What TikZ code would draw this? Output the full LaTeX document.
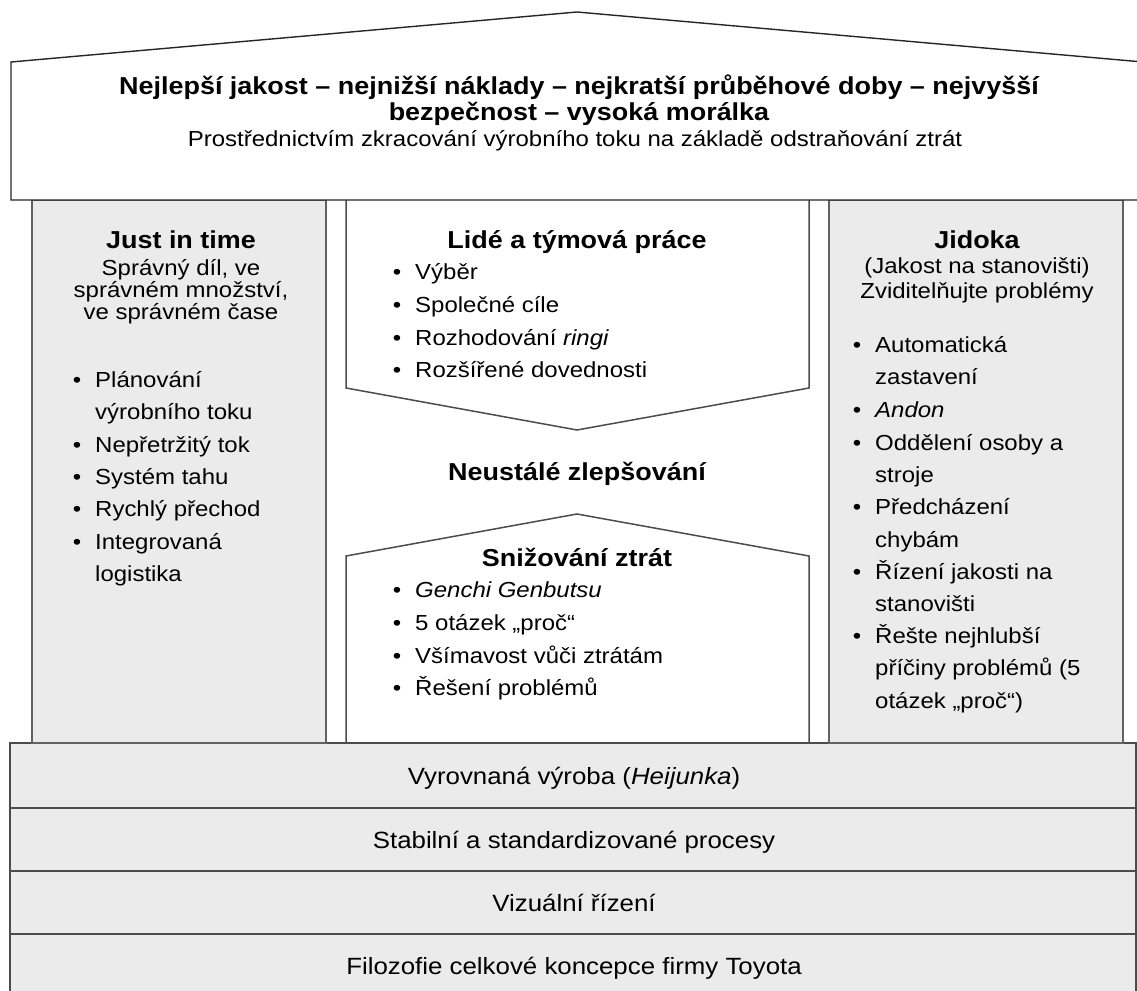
\documentclass[tikz,border=0pt]{standalone}
\usepackage{fontspec}
\setmainfont{Liberation Sans}[FakeStretch=1.1]
\newcommand\bitem[4]{%
  \node[txt,anchor=base] (#1-b) at (#2,#3) {•};
  \node[txt,anchor=base west] (#1) at ({#2+18},#3) {#4};}
\newcommand\citem[4]{%
  \node[txt,anchor=base west] (#1) at ({#2+18},#3) {#4};}
\begin{document}
\begin{tikzpicture}[x=1pt,y=-1pt,
  roofline/.style={draw=black!85, line width=1.4pt, line join=miter},
  pil/.style={fill=black!8, draw=black!62, line width=2pt},
  band/.style={fill=black!8, draw=black!70, line width=1.6pt},
  cline/.style={draw=black!70, line width=1.5pt, line join=miter},
  txt/.style={inner sep=0pt, font=\fontsize{21.8}{22}\selectfont, text=black},
  btxt/.style={inner sep=0pt, font=\fontsize{23.5}{24}\selectfont, text=black},
  hd/.style={txt, font=\fontsize{24.5}{24}\selectfont\bfseries},
]
\useasboundingbox (0,0) rectangle (1137,990);
\begin{scope}
\clip (0,0) rectangle (1137,990);
% base bands
\path[band] (10,743) rectangle (1136,808);
\path[band] (10,808) rectangle (1136,871);
\path[band] (10,871) rectangle (1136,934);
\path[band] (10,934) rectangle (1136,1000);
% pillars
\path[pil] (32,200) rectangle (326,743);
\path[pil] (829,200) rectangle (1123,743);
% centre shapes
\path[cline] (346,200) -- (346,388) -- (577,430) -- (809,388) -- (809,200);
\path[cline] (346,743) -- (346,556) -- (577,514) -- (809,556) -- (809,743);
% roof
\path[roofline, fill=white] (11,200) -- (11,62) -- (577,12) -- (1143,62) -- (1143,200) -- cycle;
\end{scope}

% roof text
\node[hd,anchor=base] (r1) at (579,94) {Nejlepší jakost – nejnižší náklady – nejkratší průběhové doby – nejvyšší};
\node[hd,anchor=base] (r2) at (579,120) {bezpečnost – vysoká morálka};
\node[txt,anchor=base] (r3) at (575,146) {Prostřednictvím zkracování výrobního toku na základě odstraňování ztrát};

% left pillar
\node[hd,anchor=base] (jit) at (181,248) {Just in time};
\node[txt,anchor=base] (jit1) at (181,275) {Správný díl, ve};
\node[txt,anchor=base] (jit2) at (181,297) {správném množství,};
\node[txt,anchor=base] (jit3) at (181,319) {ve správném čase};
\bitem{l1}{77}{387}{Plánování}
\citem{l1c}{77}{419}{výrobního toku}
\bitem{l2}{77}{452}{Nepřetržitý tok}
\bitem{l3}{77}{484}{Systém tahu}
\bitem{l4}{77}{516}{Rychlý přechod}
\bitem{l5}{77}{549}{Integrovaná}
\citem{l5c}{77}{581}{logistika}

% centre
\node[hd,anchor=base] (ppl) at (577,248) {Lidé a týmová práce};
\bitem{c1}{397}{279}{Výběr}
\bitem{c2}{397}{312}{Společné cíle}
\bitem{c3}{397}{345}{Rozhodování \textit{ringi}}
\bitem{c4}{397}{377}{Rozšířené dovednosti}
\node[hd,anchor=base] (kai) at (577,480) {Neustálé zlepšování};
\node[hd,anchor=base] (waste) at (577,566) {Snižování ztrát};
\bitem{w1}{397}{597}{\textit{Genchi Genbutsu}}
\bitem{w2}{397}{630}{5 otázek „proč“}
\bitem{w3}{397}{663}{Všímavost vůči ztrátám}
\bitem{w4}{397}{695}{Řešení problémů}

% right pillar
\node[hd,anchor=base] (jid) at (977,248) {Jidoka};
\node[txt,anchor=base] (jid1) at (977,273) {(Jakost na stanovišti)};
\node[txt,anchor=base] (jid2) at (977,298) {Zviditelňujte problémy};
\bitem{r1}{857}{352}{Automatická}
\citem{r1c}{857}{384}{zastavení}
\bitem{r2}{857}{417}{\textit{Andon}}
\bitem{r3}{857}{450}{Oddělení osoby a}
\citem{r3c}{857}{482}{stroje}
\bitem{r4}{857}{514}{Předcházení}
\citem{r4c}{857}{547}{chybám}
\bitem{r5}{857}{579}{Řízení jakosti na}
\citem{r5c}{857}{611}{stanovišti}
\bitem{r6}{857}{643}{Řešte nejhlubší}
\citem{r6c}{857}{675}{příčiny problémů (5}
\citem{r6d}{857}{708}{otázek „proč“)}

% bands text
\node[btxt,anchor=base] (b1) at (574,784) {Vyrovnaná výroba (\textit{Heijunka})};
\node[btxt,anchor=base] (b2) at (574,848) {Stabilní a standardizované procesy};
\node[btxt,anchor=base] (b3) at (574,911) {Vizuální řízení};
\node[btxt,anchor=base] (b4) at (574,974) {Filozofie celkové koncepce firmy Toyota};
\end{tikzpicture}
\end{document}
